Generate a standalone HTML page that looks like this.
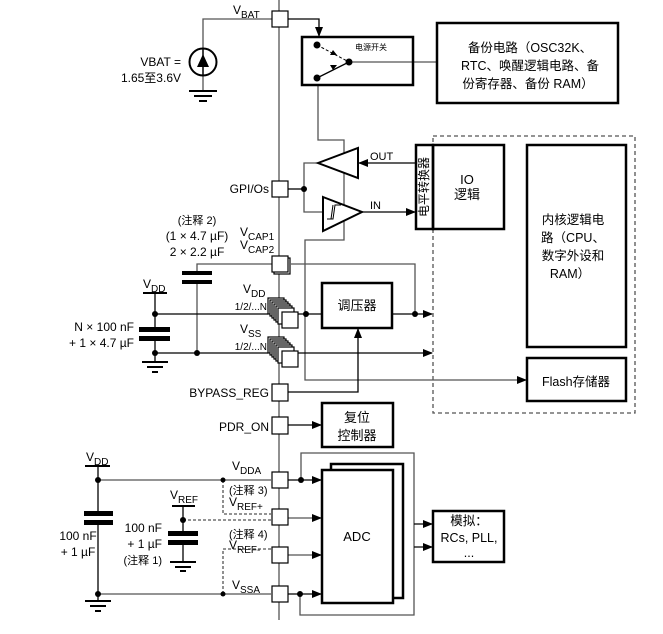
<!DOCTYPE html>
<html><head><meta charset="utf-8"><style>
html,body{margin:0;padding:0;background:#fff;}
svg{display:block;font-family:"Liberation Sans","Noto Sans CJK SC",sans-serif;}
text{fill:#000;}
</style></head><body>
<svg width="663" height="634" viewBox="0 0 663 634" xmlns="http://www.w3.org/2000/svg">
<defs>
<marker id="a" markerWidth="10" markerHeight="8" refX="9" refY="4" orient="auto" markerUnits="userSpaceOnUse"><path d="M0,0 L10,4 L0,8 z" fill="#000"/></marker>
</defs>
<g stroke="#555" stroke-width="1.3" fill="none">
<!-- main bus -->
<line x1="279" y1="0" x2="279" y2="620"/>
<!-- VBAT -->
<polyline points="203,49 203,19 272,19"/>
<line x1="203" y1="75" x2="203" y2="90"/>
<polyline points="288,19 319,19 319,36" stroke="#000" marker-end="url(#a)"/>
<line x1="349" y1="62" x2="437" y2="62"/>
<polyline points="318,85 318,140 344,140 344,240 305,240 305,380 526,380" marker-end="url(#a)"/>
<!-- GPIO -->
<line x1="288" y1="189" x2="304" y2="189" stroke="#000"/>
<polyline points="318,163 304,163 304,212 323,212"/>
<line x1="416" y1="163" x2="359" y2="163" stroke="#000" marker-end="url(#a)"/>
<line x1="362" y1="212" x2="415" y2="212" stroke="#000" marker-end="url(#a)"/>
<!-- VCAP -->
<polyline points="197,274 197,264 272,264"/>
<polyline points="291,264 415,264 415,314"/>
<line x1="197" y1="283" x2="197" y2="353"/>
<!-- VDD/VSS -->
<line x1="155" y1="314" x2="268" y2="314" stroke="#000"/>
<line x1="155" y1="353" x2="268" y2="353" stroke="#000"/>
<line x1="298" y1="314" x2="322" y2="314" stroke="#000"/>
<line x1="391" y1="314" x2="432" y2="314" stroke="#000" marker-end="url(#a)"/>
<line x1="298" y1="353" x2="432" y2="353" stroke="#000" marker-end="url(#a)"/>
<line x1="155" y1="293" x2="155" y2="329" stroke="#000"/>
<line x1="155" y1="338" x2="155" y2="362" stroke="#000"/>
<!-- bypass -->
<polyline points="288,392 358,392 358,329" stroke="#000" marker-end="url(#a)"/>
<line x1="288" y1="425" x2="321" y2="425" stroke="#000" marker-end="url(#a)"/>
<!-- bottom left -->
<line x1="98" y1="466" x2="98" y2="513" stroke="#000"/>
<line x1="98" y1="522" x2="98" y2="600" stroke="#000"/>
<line x1="98" y1="480" x2="271" y2="480"/>
<line x1="98" y1="594" x2="271" y2="594"/>
<polyline points="223,480 223,514 271,514" stroke-dasharray="3,2"/>
<line x1="183" y1="520" x2="271" y2="520" stroke-dasharray="3,2"/>
<polyline points="271,549 223,549 223,594" stroke-dasharray="3,2"/>
<line x1="183" y1="506" x2="183" y2="533" stroke="#000"/>
<line x1="183" y1="542" x2="183" y2="562" stroke="#000"/>
<!-- ADC -->
<line x1="288" y1="480" x2="321" y2="480" stroke="#000" marker-end="url(#a)"/>
<line x1="288" y1="518" x2="321" y2="518" marker-end="url(#a)"/>
<line x1="288" y1="555" x2="321" y2="555" marker-end="url(#a)"/>
<line x1="288" y1="594" x2="321" y2="594" stroke="#000" marker-end="url(#a)"/>
<polyline points="301,480 301,453 414,453 414,615 300,615 300,594"/>
<line x1="414" y1="524" x2="432" y2="524" stroke="#000" marker-end="url(#a)"/>
<line x1="414" y1="547" x2="432" y2="547" stroke="#000" marker-end="url(#a)"/>
</g>
<!-- dots -->
<g fill="#000">
<circle cx="304" cy="189" r="3"/><circle cx="306" cy="314" r="3"/><circle cx="415" cy="314" r="3"/>
<circle cx="155" cy="314" r="3"/><circle cx="155" cy="353" r="3"/><circle cx="197" cy="353" r="3"/>
<circle cx="98" cy="480" r="3"/><circle cx="98" cy="594" r="3"/><circle cx="223" cy="480" r="2.5"/><circle cx="223" cy="594" r="2.5"/>
<circle cx="183" cy="520" r="3"/><circle cx="301" cy="480" r="3"/><circle cx="300" cy="594" r="3"/>
<!-- caps -->
<rect x="182" y="271" width="30" height="4"/><rect x="182" y="280" width="30" height="4"/>
<rect x="139" y="327" width="31" height="5"/><rect x="139" y="336" width="31" height="5"/>
<rect x="84" y="511" width="29" height="5"/><rect x="84" y="520" width="29" height="5"/>
<rect x="168" y="531" width="30" height="5"/><rect x="168" y="540" width="30" height="5"/>
<!-- supply bars -->
<rect x="143" y="292" width="24" height="2"/><rect x="85" y="465" width="25" height="2"/><rect x="172" y="505" width="23" height="2"/>
</g>
<!-- grounds -->
<g stroke="#000" stroke-width="2">
<line x1="189" y1="91" x2="217" y2="91"/><line x1="194" y1="96" x2="212" y2="96"/><line x1="199" y1="101" x2="207" y2="101"/>
<line x1="142" y1="362" x2="168" y2="362"/><line x1="147" y1="367" x2="163" y2="367"/><line x1="152" y1="372" x2="158" y2="372"/>
<line x1="85" y1="601" x2="111" y2="601"/><line x1="90" y1="606" x2="106" y2="606"/><line x1="95" y1="611" x2="101" y2="611"/>
<line x1="170" y1="562" x2="196" y2="562"/><line x1="175" y1="567" x2="191" y2="567"/><line x1="180" y1="571" x2="186" y2="571"/>
</g>
<!-- VBAT source -->
<circle cx="203" cy="62" r="13.5" fill="none" stroke="#000" stroke-width="2"/>
<line x1="203" y1="49" x2="203" y2="75" stroke="#000" stroke-width="1.5"/>
<path d="M197,67 L209,67 L203,54 z" fill="#000"/>
<!-- switch box -->
<rect x="302" y="37" width="111" height="48" fill="none" stroke="#000" stroke-width="2.5"/>
<g fill="#000"><circle cx="317" cy="45" r="3.5"/><circle cx="317" cy="78" r="3.5"/><circle cx="349" cy="62" r="3.5"/></g>
<line x1="317" y1="45" x2="349" y2="62" stroke="#000" stroke-dasharray="3,2"/>
<line x1="317" y1="78" x2="349" y2="62" stroke="#000" stroke-width="1.3"/>
<path d="M330,55 L337,55 L333,50 z M330,65 L337,65 L333,70 z" fill="#000"/>
<text x="355" y="50" font-size="8">电源开关</text>
<!-- backup box -->
<rect x="437" y="23" width="181" height="80" fill="none" stroke="#000" stroke-width="2.5"/>
<g font-size="12.5" text-anchor="middle"><text x="530" y="52">备份电路（OSC32K、</text><text x="530" y="70">RTC、唤醒逻辑电路、备</text><text x="528" y="88">份寄存器、备份 RAM）</text></g>
<!-- buffers -->
<path d="M318,163 L358,148 L358,178 z" fill="#fff" stroke="#000" stroke-width="2"/>
<path d="M323,197 L362,212 L323,231 z" fill="#fff" stroke="#000" stroke-width="2"/>
<path d="M327,219 L333,219 L335,205 L341,205 M331,219 L333,205" fill="none" stroke="#000" stroke-width="1"/>
<text x="370" y="160" font-size="11">OUT</text><text x="370" y="209" font-size="11">IN</text>
<!-- dashed region -->
<rect x="433" y="136" width="202" height="277" fill="none" stroke="#555" stroke-width="1.3" stroke-dasharray="4,3"/>
<rect x="416" y="145" width="17" height="84" fill="#fff" stroke="#000" stroke-width="2.5"/>
<text transform="translate(428,187) rotate(-90)" font-size="12" text-anchor="middle">电平转换器</text>
<rect x="433" y="145" width="71" height="84" fill="none" stroke="#000" stroke-width="2.5"/>
<text x="467" y="184" font-size="13" text-anchor="middle">IO</text><text x="467" y="199" font-size="13" text-anchor="middle">逻辑</text>
<rect x="527" y="145" width="99" height="202" fill="none" stroke="#000" stroke-width="2.5"/>
<g font-size="12.5" text-anchor="middle"><text x="573" y="224">内核逻辑电</text><text x="573" y="242">路（CPU、</text><text x="573" y="260">数字外设和</text><text x="570" y="278">RAM）</text></g>
<rect x="527" y="358" width="99" height="43" fill="none" stroke="#000" stroke-width="2.5"/>
<text x="576" y="386" font-size="12.5" text-anchor="middle">Flash存储器</text>
<!-- regulator / reset -->
<rect x="322" y="283" width="70" height="45" fill="#fff" stroke="#000" stroke-width="2.5"/>
<text x="357" y="310" font-size="13" text-anchor="middle">调压器</text>
<rect x="322" y="403" width="71" height="44" fill="#fff" stroke="#000" stroke-width="2.5"/>
<text x="357" y="422" font-size="13" text-anchor="middle">复位</text><text x="357" y="440" font-size="13" text-anchor="middle">控制器</text>
<!-- ADC -->
<rect x="331" y="464" width="72" height="134" fill="#fff" stroke="#000" stroke-width="2.5"/>
<rect x="322" y="470" width="71" height="133" fill="#fff" stroke="#000" stroke-width="2.5"/>
<text x="357" y="541" font-size="13" text-anchor="middle">ADC</text>
<rect x="433" y="511" width="71" height="51" fill="none" stroke="#000" stroke-width="2.5"/>
<g font-size="12.5" text-anchor="middle"><text x="469" y="525">模拟：</text><text x="469" y="542">RCs, PLL,</text><text x="469" y="557">...</text></g>
<!-- pins -->
<g fill="#fff" stroke="#000" stroke-width="1.2">
<rect x="272" y="11" width="16" height="16"/><rect x="272" y="181" width="16" height="16"/>
<rect x="274" y="258" width="16" height="16"/><rect x="272" y="256" width="16" height="16"/>
<rect x="268" y="298" width="16" height="16"/><rect x="270" y="300" width="16" height="16"/><rect x="272" y="302" width="16" height="16"/><rect x="274" y="304" width="16" height="16"/><rect x="276" y="306" width="16" height="16"/><rect x="278" y="308" width="16" height="16"/><rect x="282" y="312" width="16" height="16"/>
<rect x="268" y="337" width="16" height="16"/><rect x="270" y="339" width="16" height="16"/><rect x="272" y="341" width="16" height="16"/><rect x="274" y="343" width="16" height="16"/><rect x="276" y="345" width="16" height="16"/><rect x="278" y="347" width="16" height="16"/><rect x="282" y="351" width="16" height="16"/>
<rect x="272" y="384" width="16" height="17"/><rect x="272" y="417" width="16" height="17"/>
<rect x="272" y="472" width="16" height="16"/><rect x="272" y="509" width="16" height="16"/><rect x="272" y="547" width="16" height="16"/><rect x="272" y="586" width="16" height="16"/>
</g>
<!-- labels -->
<g font-size="12">
<text x="233" y="14">V<tspan font-size="10" dy="4">BAT</tspan></text>
<text x="181" y="66" text-anchor="end">VBAT =</text>
<text x="181" y="82" text-anchor="end">1.65至3.6V</text>
<text x="269" y="193" text-anchor="end">GPI/Os</text>
<text x="197" y="224" text-anchor="middle" font-size="11">(注释 2)</text>
<text x="197" y="240" text-anchor="middle">(1 × 4.7 µF)</text>
<text x="197" y="256" text-anchor="middle">2 × 2.2 µF</text>
<text x="240" y="236">V<tspan font-size="10" dy="4">CAP1</tspan></text>
<text x="240" y="249">V<tspan font-size="10" dy="4">CAP2</tspan></text>
<text x="143" y="288">V<tspan font-size="10" dy="4">DD</tspan></text>
<text x="243" y="293">V<tspan font-size="10" dy="4">DD</tspan></text>
<text x="267" y="310" text-anchor="end" font-size="10">1/2/...N</text>
<text x="240" y="333">V<tspan font-size="10" dy="4">SS</tspan></text>
<text x="267" y="350" text-anchor="end" font-size="10">1/2/...N</text>
<text x="134" y="331" text-anchor="end">N ×  100 nF</text>
<text x="134" y="347" text-anchor="end">+ 1 × 4.7 µF</text>
<text x="269" y="397" text-anchor="end">BYPASS_REG</text>
<text x="269" y="431" text-anchor="end">PDR_ON</text>
<text x="86" y="461">V<tspan font-size="10" dy="4">DD</tspan></text>
<text x="232" y="470">V<tspan font-size="10" dy="4">DDA</tspan></text>
<text x="229" y="494" font-size="11">(注释 3)</text>
<text x="229" y="506">V<tspan font-size="10" dy="4">REF+</tspan></text>
<text x="170" y="499">V<tspan font-size="10" dy="4">REF</tspan></text>
<text x="78" y="540" text-anchor="middle">100 nF</text>
<text x="78" y="556" text-anchor="middle">+ 1 µF</text>
<text x="162" y="532" text-anchor="end">100 nF</text>
<text x="162" y="548" text-anchor="end">+ 1 µF</text>
<text x="162" y="564" text-anchor="end" font-size="11">(注释 1)</text>
<text x="229" y="538" font-size="11">(注释 4)</text>
<text x="229" y="549">V<tspan font-size="10" dy="4">REF-</tspan></text>
<text x="232" y="589">V<tspan font-size="10" dy="4">SSA</tspan></text>
</g>
</svg>
</body></html>
